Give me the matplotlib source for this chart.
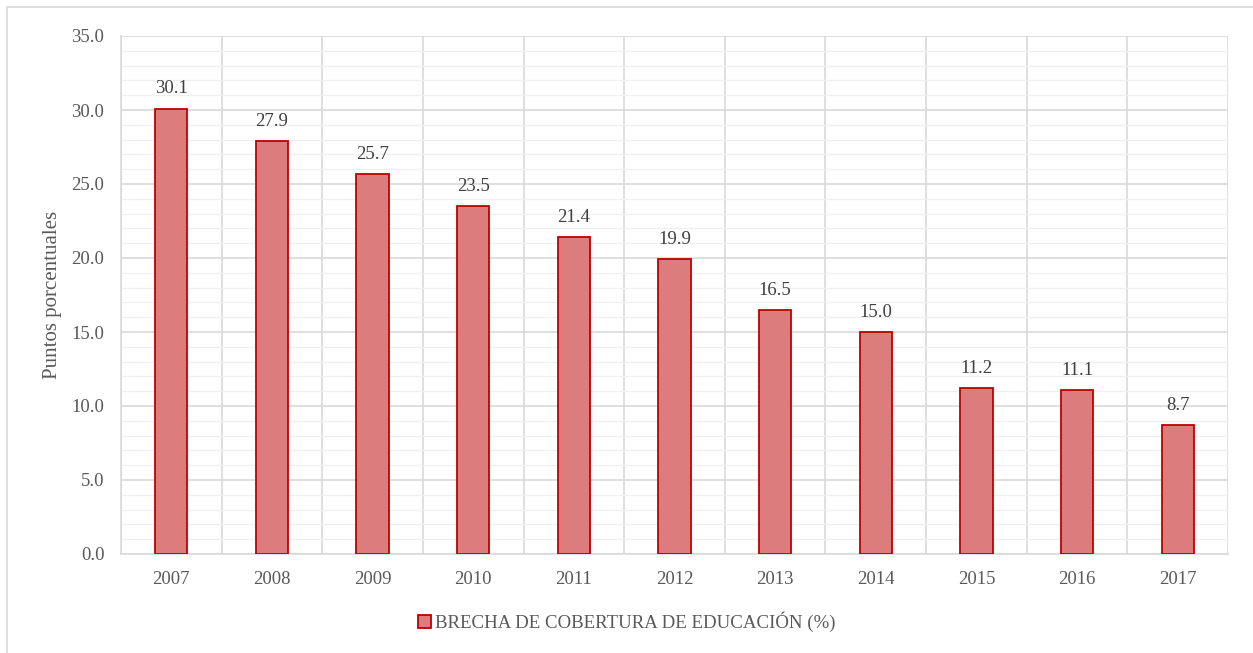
import numpy as np
import matplotlib.pyplot as plt
from matplotlib.patches import Rectangle

# Datos
years = ["2007", "2008", "2009", "2010", "2011", "2012", "2013", "2014", "2015", "2016", "2017"]
brecha = [30.1, 27.9, 25.7, 23.5, 21.4, 19.9, 16.5, 15.0, 11.2, 11.1, 8.7]

plt.rcParams['font.family'] = ['Liberation Serif', 'DejaVu Serif']
txt_color = "#595959"

fig = plt.figure(figsize=(12.53, 6.53), dpi=100)
ax = fig.add_axes([121 / 1253, 1 - 554 / 653, (1228 - 121) / 1253, (554 - 36) / 653])

x = np.arange(len(years))
bars = ax.bar(x, brecha, width=0.32, color="#DD7C7C", edgecolor="#C00000",
              linewidth=1.3, label="BRECHA DE COBERTURA DE EDUCACIÓN (%)", zorder=3)

for xi, v in zip(x, brecha):
    ax.text(xi, v + 0.75, f"{v:.1f}", ha="center", va="bottom", fontsize=13.5, color="#404040")

ax.set_xlim(-0.5, len(years) - 0.5)
ax.set_ylim(0, 35)
ax.set_yticks(np.arange(0, 35.1, 5))
ax.set_yticklabels([f"{v:.1f}" for v in np.arange(0, 35.1, 5)])
ax.set_yticks(np.arange(0, 35.1, 1), minor=True)
ax.set_xticks(x)
ax.set_xticklabels(years)
ax.set_xticks(np.arange(-0.5, len(years)), minor=True)

ax.grid(which="major", axis="y", color="#D9D9D9", linewidth=1.2, zorder=0)
ax.grid(which="minor", axis="y", color="#F0F0F0", linewidth=1.0, zorder=0)
ax.grid(which="minor", axis="x", color="#D9D9D9", linewidth=1.2, zorder=0)
ax.grid(which="major", axis="x", visible=False)

for s in ["top", "right"]:
    ax.spines[s].set_visible(False)
ax.spines["left"].set_color("#D9D9D9")
ax.spines["bottom"].set_color("#D9D9D9")
ax.spines["left"].set_linewidth(1.2)
ax.spines["bottom"].set_linewidth(1.2)

ax.tick_params(which="both", length=0)
ax.tick_params(axis="y", labelsize=13.5, labelcolor=txt_color, pad=12)
ax.tick_params(axis="x", labelsize=13.5, labelcolor=txt_color, pad=12)

ax.set_ylabel("Puntos porcentuales", fontsize=15, color=txt_color, labelpad=7)

fig.legend(handles=[bars], loc="center", bbox_to_anchor=(0.5, 1 - 622 / 653),
           frameon=False, fontsize=13.6, labelcolor=txt_color,
           handlelength=0.7, handleheight=0.7, handletextpad=0.2)

fig.patches.append(Rectangle((7 / 1253, -0.05), 1.1, 1 - 7 / 653 + 0.05,
                             transform=fig.transFigure, fill=False,
                             edgecolor="#D9D9D9", linewidth=1.2))

fig.savefig("out.png", dpi=100)
